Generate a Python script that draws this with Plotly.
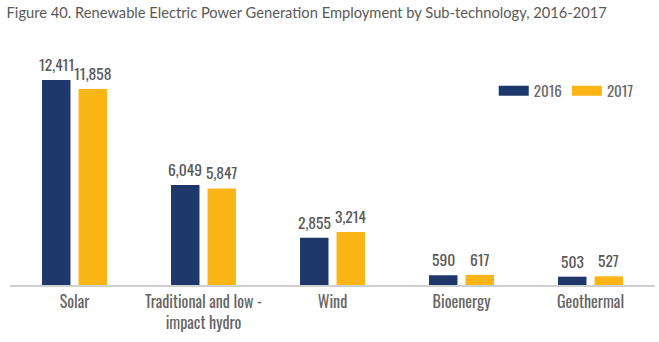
import plotly.graph_objects as go

categories = ["Solar", "Traditional and low -<br>impact hydro", "Wind", "Bioenergy", "Geothermal"]
jobs_2016 = [12411, 6049, 2855, 590, 503]
jobs_2017 = [11858, 5847, 3214, 617, 527]
series_names = ["2016", "2017"]

NAVY = "#1f386c"
GOLD = "#fbb517"
COND = "Oswald, Fjalla One, Roboto Condensed, Barlow Condensed, Archivo Narrow, sans-serif"

fig = go.Figure()
for name, vals, col in [(series_names[0], jobs_2016, NAVY), (series_names[1], jobs_2017, GOLD)]:
    fig.add_trace(go.Bar(x=categories, y=vals, name=name, marker=dict(color=col, line=dict(width=0)),
                         showlegend=False))
    # wide rectangular legend swatches
    fig.add_trace(go.Scatter(x=[None], y=[None], mode="lines", name=name,
                             line=dict(color=col, width=10)))

# value labels above each bar
for vals, shift in [(jobs_2016, -18.3), (jobs_2017, 18.3)]:
    for c, v in zip(categories, vals):
        fig.add_annotation(x=c, y=v, text=f"{v:,}", showarrow=False, xshift=shift,
                           yanchor="bottom", yshift=3,
                           font=dict(family=COND, size=15.5, color="#5a5a5a"))

fig.update_layout(
    width=659, height=342,
    margin=dict(l=10, r=4, t=40, b=57),
    paper_bgcolor="white", plot_bgcolor="white",
    barmode="group", bargap=0.434, bargroupgap=0.22,
    title=dict(text="Figure 40. Renewable Electric Power Generation Employment by Sub-technology, 2016-2017",
               x=0.01, xanchor="left", y=0.962, yanchor="middle",
               font=dict(family="Lato, Open Sans, sans-serif", size=14.7, color="#595959")),
    legend=dict(orientation="h", x=0.75, y=0.792, xanchor="left", yanchor="middle",
                font=dict(family=COND, size=15, color="#6a6a6a"),
                itemwidth=30, tracegroupgap=0, bgcolor="rgba(0,0,0,0)"),
    xaxis=dict(showline=True, linecolor="#cfcfcf", linewidth=2, ticks="outside",
               ticklen=2, tickcolor="rgba(0,0,0,0)",
               tickfont=dict(family=COND, size=16, color="#666666")),
    yaxis=dict(range=[0, 14830], visible=False, showgrid=False, zeroline=False),
)

fig.write_html("out.html")
